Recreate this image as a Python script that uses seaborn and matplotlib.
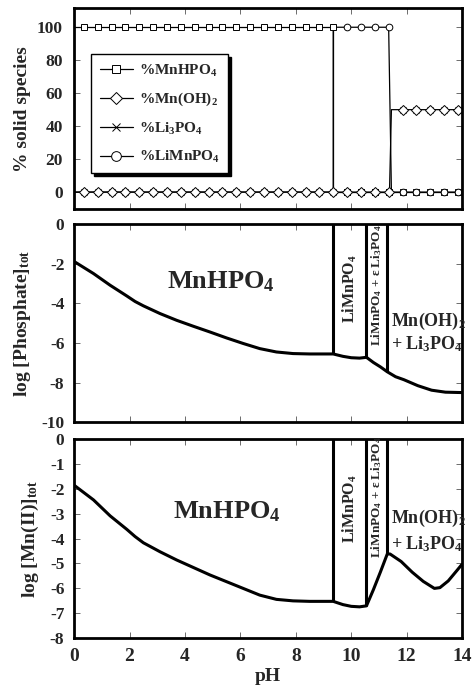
import numpy as np
import matplotlib
matplotlib.use("Agg")
import matplotlib.pyplot as plt
from matplotlib.lines import Line2D
import seaborn as sns

# ---- data ----
# top panel: sampled points (markers)
marker_ph = [0.35, 0.85, 1.35, 1.85, 2.35, 2.85, 3.35, 3.85, 4.35, 4.85,
             5.35, 5.85, 6.35, 6.85, 7.35, 7.85, 8.35, 8.85, 9.35, 9.85,
             10.35, 10.85, 11.35, 11.85, 12.35, 12.85, 13.35, 13.85]
pct_mnhpo4 = [100, 100, 100, 100, 100, 100, 100, 100, 100, 100,
              100, 100, 100, 100, 100, 100, 100, 100, 100, 0,
              0, 0, 0, 0, 0, 0, 0, 0]
pct_mnoh2 = [0, 0, 0, 0, 0, 0, 0, 0, 0, 0,
             0, 0, 0, 0, 0, 0, 0, 0, 0, 0,
             0, 0, 0, 50, 50, 50, 50, 50]
pct_li3po4 = [0, 0, 0, 0, 0, 0, 0, 0, 0, 0,
              0, 0, 0, 0, 0, 0, 0, 0, 0, 0,
              0, 0, 0, 50, 50, 50, 50, 50]
pct_limnpo4 = [0, 0, 0, 0, 0, 0, 0, 0, 0, 0,
               0, 0, 0, 0, 0, 0, 0, 0, 0, 100,
               100, 100, 100, 0, 0, 0, 0, 0]

# top panel: connecting lines (transitions are near-vertical)
line_ph_mnhpo4 = [0, 9.35, 9.35, 14]
line_pct_mnhpo4 = [100, 100, 0, 0]
line_ph_limnpo4 = [0, 9.35, 9.35, 11.35, 11.45, 14]
line_pct_limnpo4 = [0, 0, 100, 100, 0, 0]
line_ph_mnoh2 = [0, 11.38, 11.45, 14]
line_pct_mnoh2 = [0, 0, 50, 50]

# middle panel: log total phosphate
phos_ph = [0, 0.7, 1.3, 1.9, 2.2, 2.5, 3.1, 3.7, 4.3, 4.9, 5.5, 6.1, 6.7,
           7.3, 7.9, 8.5, 9.35, 9.7, 10.0, 10.3, 10.55, 10.8, 11.05, 11.3,
           11.6, 11.9, 12.4, 12.9, 13.4, 14.0]
phos_log = [-1.88, -2.49, -3.08, -3.62, -3.9, -4.12, -4.51, -4.85, -5.15,
            -5.44, -5.74, -6.02, -6.28, -6.45, -6.53, -6.55, -6.55, -6.67,
            -6.74, -6.76, -6.72, -6.98, -7.2, -7.45, -7.7, -7.85, -8.15,
            -8.38, -8.48, -8.5]

# bottom panel: log total Mn(II)
mn_ph = [0, 0.7, 1.3, 1.9, 2.2, 2.5, 3.1, 3.7, 4.3, 4.9, 5.5, 6.1, 6.7, 7.3,
         7.9, 8.5, 9.35, 9.7, 10.0, 10.3, 10.55, 10.8, 11.05, 11.3, 11.4,
         11.8, 12.2, 12.6, 13.0, 13.2, 13.5, 13.8, 14.0]
mn_log = [-1.86, -2.45, -3.09, -3.63, -3.92, -4.17, -4.53, -4.86, -5.16,
          -5.46, -5.73, -6.0, -6.27, -6.44, -6.5, -6.52, -6.52, -6.65, -6.72,
          -6.74, -6.7, -6.05, -5.35, -4.62, -4.62, -4.92, -5.35, -5.72, -6.0,
          -5.97, -5.7, -5.3, -5.03]

# phase boundaries
boundary_ph = [9.35, 10.55, 11.3]
phos_at_boundary = [-6.55, -6.72, -7.45]
mn_at_boundary = [-6.52, -6.7, -4.62]

sns.set_theme(style="ticks")
plt.rcParams["font.family"] = ["Liberation Serif", "DejaVu Serif"]
plt.rcParams["font.weight"] = "bold"
plt.rcParams["axes.labelweight"] = "bold"
plt.rcParams["mathtext.default"] = "regular"
plt.rcParams["axes.unicode_minus"] = False
plt.rcParams["xtick.direction"] = "in"
plt.rcParams["ytick.direction"] = "in"

fig = plt.figure(figsize=(4.72, 6.9), dpi=100)
ax1 = fig.add_axes([0.157, 0.697, 0.822, 0.291])
ax2 = fig.add_axes([0.157, 0.388, 0.822, 0.287])
ax3 = fig.add_axes([0.157, 0.075, 0.822, 0.289])

for ax in (ax1, ax2, ax3):
    for s in ax.spines.values():
        s.set_linewidth(2.0)
        s.set_color("black")
    ax.tick_params(top=True, right=True, length=4, width=0.6, color="#555555")
    ax.set_xlim(0, 14)
    ax.set_xticks([0, 2, 4, 6, 8, 10, 12, 14])

# ---- top panel ----
lw = 0.9
sns.lineplot(x=line_ph_mnhpo4, y=line_pct_mnhpo4, ax=ax1, sort=False,
             estimator=None, color="black", lw=lw)
sns.lineplot(x=line_ph_limnpo4, y=line_pct_limnpo4, ax=ax1, sort=False,
             estimator=None, color="black", lw=lw)
sns.lineplot(x=line_ph_mnoh2, y=line_pct_mnoh2, ax=ax1, sort=False,
             estimator=None, color="black", lw=lw)

mk = dict(ls="none", mfc="white", mec="black", mew=0.7)
ax1.plot(marker_ph, pct_mnhpo4, marker="s", ms=3.8, **mk)
ax1.plot(marker_ph, pct_limnpo4, marker="o", ms=4.8, **mk)
ax1.plot(marker_ph, pct_li3po4, marker="x", ms=4, **mk)
ax1.plot(marker_ph, pct_mnoh2, marker="D", ms=4.8, **mk)

ax1.set_ylim(-10.3, 111.5)
ax1.set_yticks([0, 20, 40, 60, 80, 100])
ax1.set_xticklabels([])
ax1.tick_params(axis="y", labelsize=12.5, pad=8)
ax1.set_ylabel("% solid species", fontsize=14, labelpad=4)

handles = [
    Line2D([], [], color="black", lw=lw, marker="s", ms=6, mfc="white", mec="black", mew=0.7),
    Line2D([], [], color="black", lw=lw, marker="D", ms=6.5, mfc="white", mec="black", mew=0.7),
    Line2D([], [], color="black", lw=lw, marker="x", ms=6, mec="black", mew=0.7),
    Line2D([], [], color="black", lw=lw, marker="o", ms=7, mfc="white", mec="black", mew=0.7),
]
labels = ["%MnHPO$_4$", "%Mn(OH)$_2$", "%Li$_3$PO$_4$", "%LiMnPO$_4$"]
leg = ax1.legend(handles, labels, loc="upper left", bbox_to_anchor=(0.044, 0.771),
                 borderaxespad=0, fancybox=False, frameon=True, framealpha=1,
                 edgecolor="black", fontsize=11, labelspacing=0.8,
                 handlelength=2.2, handletextpad=0.35, borderpad=0.55,
                 shadow={"color": "black", "alpha": 1})
leg.get_frame().set_linewidth(1.0)

# ---- middle panel ----
sns.lineplot(x=phos_ph, y=phos_log, ax=ax2, sort=False, estimator=None,
             color="black", lw=2.2)
ax2.vlines(boundary_ph, phos_at_boundary, 0, color="black", lw=2.2)
ax2.set_ylim(-10, 0)
ax2.set_yticks([-10, -8, -6, -4, -2, 0])
ax2.set_xticklabels([])
ax2.tick_params(axis="y", labelsize=12.5, pad=7)
ax2.set_ylabel("log [Phosphate]$_{tot}$", fontsize=14, labelpad=6)

ax2.text(3.37, -3.25, "MnHPO$_4$", fontsize=19, ha="left", va="baseline")
ax2.text(9.95, -3.25, "LiMnPO$_4$", fontsize=11.5, rotation=90, ha="center", va="center")
ax2.text(10.92, -3.1, "LiMnPO$_4$ + ε Li$_3$PO$_4$", fontsize=9.5, rotation=90,
         ha="center", va="center")
ax2.text(11.45, -5.11, "Mn(OH)$_2$", fontsize=13, ha="left", va="baseline")
ax2.text(11.45, -6.29, "+ Li$_3$PO$_4$", fontsize=13, ha="left", va="baseline")

# ---- bottom panel ----
sns.lineplot(x=mn_ph, y=mn_log, ax=ax3, sort=False, estimator=None,
             color="black", lw=2.2)
ax3.vlines(boundary_ph, mn_at_boundary, 0, color="black", lw=2.2)
ax3.set_ylim(-8, 0)
ax3.set_yticks([-8, -7, -6, -5, -4, -3, -2, -1, 0])
ax3.tick_params(axis="y", labelsize=12.5, pad=7)
ax3.tick_params(axis="x", labelsize=14, pad=7)
ax3.set_ylabel("log [Mn(II)]$_{tot}$", fontsize=14, labelpad=6)
ax3.set_xlabel("pH", fontsize=14, labelpad=2)

ax3.text(3.58, -3.18, "MnHPO$_4$", fontsize=19, ha="left", va="baseline")
ax3.text(9.95, -2.8, "LiMnPO$_4$", fontsize=11.5, rotation=90, ha="center", va="center")
ax3.text(10.92, -2.35, "LiMnPO$_4$ + ε Li$_3$PO$_4$", fontsize=9.5, rotation=90,
         ha="center", va="center")
ax3.text(11.45, -3.39, "Mn(OH)$_2$", fontsize=13, ha="left", va="baseline")
ax3.text(11.45, -4.43, "+ Li$_3$PO$_4$", fontsize=13, ha="left", va="baseline")

fig.savefig("out.png", dpi=100)
